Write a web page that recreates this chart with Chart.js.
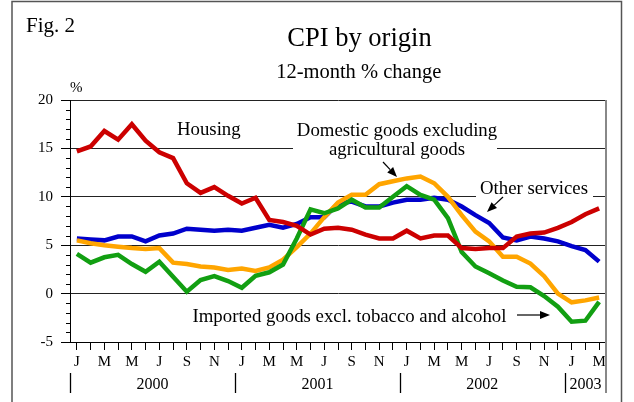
<!DOCTYPE html>
<html>
<head>
<meta charset="utf-8">
<style>
html,body{margin:0;padding:0;background:#fff;}
#wrap{position:relative;width:634px;height:402px;overflow:hidden;}
canvas{display:block;}
</style>
<script src="https://cdn.jsdelivr.net/npm/chart.js@4/dist/chart.umd.min.js"></script>
</head>
<body>
<div id="wrap"><canvas id="c" width="634" height="402"></canvas></div>
<script>
// ---- data ----
const categories = [
  '2000-01','2000-02','2000-03','2000-04','2000-05','2000-06','2000-07','2000-08','2000-09','2000-10','2000-11','2000-12',
  '2001-01','2001-02','2001-03','2001-04','2001-05','2001-06','2001-07','2001-08','2001-09','2001-10','2001-11','2001-12',
  '2002-01','2002-02','2002-03','2002-04','2002-05','2002-06','2002-07','2002-08','2002-09','2002-10','2002-11','2002-12',
  '2003-01','2003-02','2003-03'
];
const monthLetters = ['J','F','M','A','M','J','J','A','S','O','N','D'];
const yearLabels = ['2000','2001','2002','2003'];

const housing = [14.7,15.2,16.8,15.9,17.5,15.8,14.6,14.0,11.4,10.4,11.0,10.1,
                 9.3,9.9,7.6,7.4,7.0,6.1,6.7,6.8,6.6,6.1,5.7,5.7,
                 6.5,5.7,6.0,6.0,4.7,4.6,4.7,4.7,5.9,6.2,6.3,6.8,
                 7.4,8.2,8.8];
const otherServices = [5.7,5.6,5.5,5.9,5.9,5.4,6.0,6.2,6.7,6.6,6.5,6.6,
                       6.5,6.8,7.1,6.8,7.2,7.9,7.9,9.3,9.5,9.0,9.0,9.4,
                       9.7,9.7,9.9,9.7,9.0,8.1,7.3,5.8,5.5,5.9,5.7,5.4,
                       4.9,4.5,3.3];
const domesticGoods = [5.5,5.2,5.0,4.85,4.7,4.6,4.7,3.2,3.05,2.8,2.7,2.45,
                       2.6,2.35,2.7,3.5,4.8,6.2,7.9,9.4,10.2,10.2,11.3,11.6,
                       11.9,12.1,11.4,10.0,8.1,6.4,5.4,3.8,3.8,3.1,1.8,0.0,
                       -0.9,-0.7,-0.4];
const importedGoods = [4.1,3.2,3.75,4.0,3.05,2.25,3.3,1.75,0.2,1.4,1.8,1.3,
                       0.6,1.85,2.2,3.0,5.7,8.7,8.3,8.8,9.7,8.9,8.9,10.0,
                       11.1,10.2,9.7,7.8,4.3,2.8,2.1,1.35,0.7,0.65,-0.25,-1.35,
                       -2.9,-2.8,-0.85];
const yMin = -5, yMax = 20;

// ---- styles ----
const SERIF = 'Liberation Serif';
const RED = '#cc0000', BLUE = '#0000cc', ORANGE = '#ffa500', GREEN = '#129f12';

function arrow(ctx, x1, y1, x2, y2) {
  const ang = Math.atan2(y2 - y1, x2 - x1);
  const hl = 10, hw = 4;
  const bx = x2 - hl * Math.cos(ang), by = y2 - hl * Math.sin(ang);
  ctx.beginPath();
  ctx.moveTo(x1, y1); ctx.lineTo(bx, by);
  ctx.strokeStyle = '#000'; ctx.lineWidth = 1.2; ctx.stroke();
  ctx.beginPath();
  ctx.moveTo(x2, y2);
  ctx.lineTo(bx + hw * Math.sin(ang), by - hw * Math.cos(ang));
  ctx.lineTo(bx - hw * Math.sin(ang), by + hw * Math.cos(ang));
  ctx.closePath(); ctx.fillStyle = '#000'; ctx.fill();
}

const deco = {
  id: 'deco',
  beforeDatasetsDraw(chart) {
    const ctx = chart.ctx;
    const ys = chart.scales.y;
    ctx.save();
    // minor ticks on y axis
    ctx.strokeStyle = '#000'; ctx.lineWidth = 1;
    for (let v = yMin; v <= yMax; v++) {
      if (v % 5 === 0) continue;
      const y = Math.round(ys.getPixelForValue(v)) + 0.5;
      ctx.beginPath(); ctx.moveTo(chart.chartArea.left - 4, y); ctx.lineTo(chart.chartArea.left, y); ctx.stroke();
    }
    // white gaps in gridlines behind labels
    ctx.fillStyle = '#fff';
    ctx.fillRect(293, 138, 204, 22);
    ctx.fillRect(476, 182, 117, 20);
    // annotation texts
    ctx.fillStyle = '#000';
    ctx.font = '18.8px "' + SERIF + '"';
    ctx.textBaseline = 'alphabetic';
    ctx.textAlign = 'left';
    ctx.fillText('Housing', 177, 135);
    ctx.fillText('Imported goods excl. tobacco and alcohol', 192.5, 322);
    ctx.textAlign = 'center';
    ctx.fillText('Domestic goods excluding', 397, 135.5);
    ctx.fillText('agricultural goods', 397, 155);
    ctx.fillText('Other services', 534, 193.5);
    arrow(ctx, 383, 162, 397, 177);
    arrow(ctx, 503, 197, 487, 212);
    arrow(ctx, 517, 315, 550, 315);
    ctx.restore();
  },
  afterDraw(chart) {
    const ctx = chart.ctx;
    const xs = chart.scales.x;
    const area = chart.chartArea;
    ctx.save();
    // titles
    ctx.fillStyle = '#000';
    ctx.textBaseline = 'alphabetic';
    ctx.textAlign = 'left';
    ctx.font = '21px "' + SERIF + '"';
    ctx.fillText('Fig. 2', 26, 31.5);
    ctx.font = '15px "' + SERIF + '"';
    ctx.fillText('%', 70, 92);
    ctx.textAlign = 'center';
    ctx.font = '26.5px "' + SERIF + '"';
    ctx.fillText('CPI by origin', 359.5, 46);
    ctx.font = '20.5px "' + SERIF + '"';
    ctx.fillText('12-month % change', 358.7, 78.3);
    // year labels and separators
    const step = xs.getPixelForValue(1) - xs.getPixelForValue(0);
    ctx.font = '16px "' + SERIF + '"';
    yearLabels.forEach((yr) => {
      const idx = categories.map((c, i) => c.startsWith(yr) ? i : -1).filter(i => i >= 0);
      const left = xs.getPixelForValue(idx[0]) - step / 2;
      const right = xs.getPixelForValue(idx[idx.length - 1]) + step / 2;
      ctx.fillText(yr, (left + right) / 2, 388.5);
      ctx.beginPath();
      const lx = Math.round(left) + 0.5;
      ctx.moveTo(lx, 373); ctx.lineTo(lx, 393);
      ctx.strokeStyle = '#000'; ctx.lineWidth = 1.3; ctx.stroke();
    });
    // right border of plot
    ctx.beginPath();
    ctx.moveTo(area.right, area.top); ctx.lineTo(area.right, 393);
    ctx.strokeStyle = '#888'; ctx.lineWidth = 2; ctx.stroke();
    // outer frame
    ctx.strokeStyle = '#555'; ctx.lineWidth = 1.5;
    ctx.strokeRect(12, 1.5, 609.5, 430);
    ctx.restore();
  }
};

const ctx = document.getElementById('c').getContext('2d');
new Chart(ctx, {
  type: 'line',
  data: {
    labels: categories,
    datasets: [
      { label: 'Housing', data: housing, borderColor: RED, backgroundColor: RED },
      { label: 'Imported goods excl. tobacco and alcohol', data: importedGoods, borderColor: GREEN, backgroundColor: GREEN },
      { label: 'Domestic goods excluding agricultural goods', data: domesticGoods, borderColor: ORANGE, backgroundColor: ORANGE },
      { label: 'Other services', data: otherServices, borderColor: BLUE, backgroundColor: BLUE }
    ]
  },
  options: {
    responsive: false,
    animation: false,
    devicePixelRatio: 1,
    layout: { padding: { top: 100, right: 28, left: 0, bottom: 0 } },
    plugins: { legend: { display: false }, tooltip: { enabled: false }, title: { display: false } },
    elements: {
      point: { radius: 0, hoverRadius: 0 },
      line: { tension: 0, borderWidth: 4.5, borderJoinStyle: 'miter', borderCapStyle: 'butt', fill: false }
    },
    scales: {
      x: {
        type: 'category',
        offset: true,
        grid: { drawOnChartArea: false, drawTicks: true, tickLength: 8, color: '#000', lineWidth: 1, offset: false },
        border: { display: true, color: '#000', width: 1 },
        ticks: {
          autoSkip: false, maxRotation: 0, minRotation: 0, padding: 3, color: '#000',
          font: { family: SERIF, size: 15 },
          callback: function (val, idx) {
            if (idx % 2 !== 0) return '';
            const m = parseInt(categories[idx].slice(5), 10) - 1;
            return monthLetters[m];
          }
        },
        afterFit: function (s) { s.height = 60; }
      },
      y: {
        min: yMin, max: yMax,
        grid: {
          color: (c) => (c.tick && c.tick.value % 5 === 0) ? '#222' : 'rgba(0,0,0,0)',
          tickColor: (c) => (c.tick && c.tick.value % 5 === 0) ? '#000' : 'rgba(0,0,0,0)',
          tickLength: 9, drawTicks: true, lineWidth: 1
        },
        border: { display: true, color: '#000', width: 1 },
        ticks: {
          stepSize: 1, autoSkip: false, padding: 8, color: '#000',
          font: { family: SERIF, size: 15 },
          callback: (v) => (v % 5 === 0) ? String(v) : ''
        },
        afterFit: function (s) { s.width = 70; }
      }
    }
  },
  plugins: [deco]
});
</script>
</body>
</html>
